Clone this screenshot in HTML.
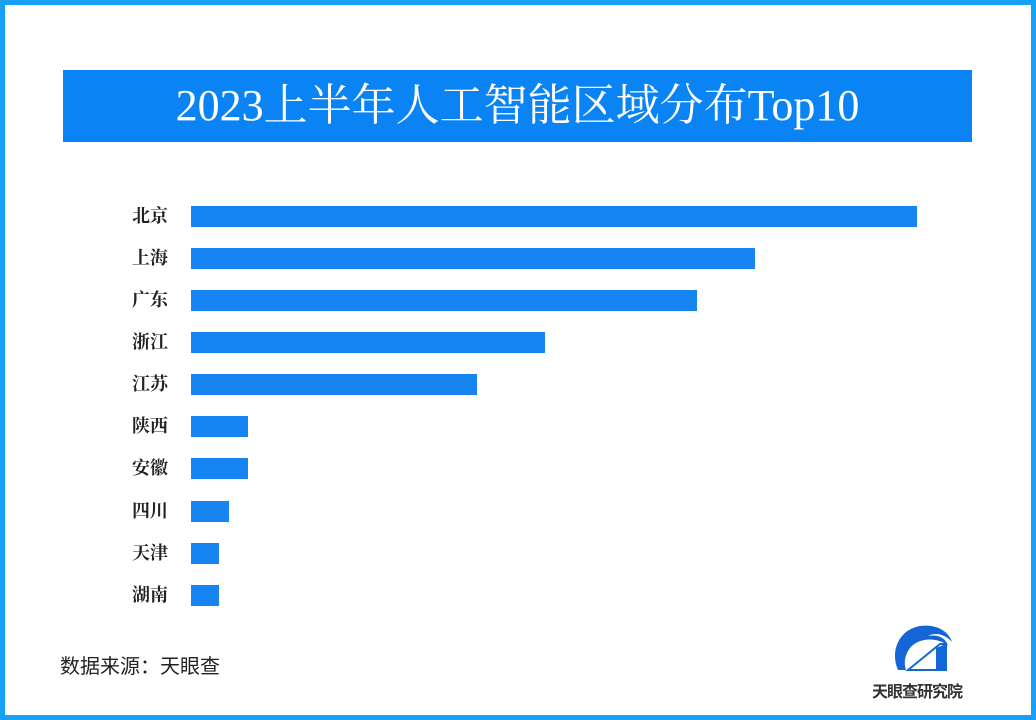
<!DOCTYPE html>
<html><head><meta charset="utf-8"><style>
body{margin:0;width:1036px;height:720px;overflow:hidden;background:#fff;}
.frame{position:absolute;left:0;top:0;width:1026px;height:710px;border:5px solid #18a0f8;background:#fff;}
.title{position:absolute;left:63px;top:70px;width:909px;height:72px;background:#0a84f5;color:#fff;font-family:"Liberation Serif","Noto Serif CJK SC",serif;font-size:44px;line-height:72px;text-align:center;}
.bar{position:absolute;left:191px;height:21px;background:#1685f2;}
.lab{position:absolute;left:100px;width:68px;text-align:right;font-family:"Liberation Serif","Noto Serif CJK SC",serif;font-size:18px;font-weight:bold;color:#222;line-height:22px;}
.src{position:absolute;left:60px;top:650px;font-family:"Liberation Sans","Noto Sans CJK SC",sans-serif;font-size:20px;color:#222;}
.logot{position:absolute;left:872px;top:678px;font-family:"Liberation Sans","Noto Sans CJK SC",sans-serif;font-size:16px;font-weight:bold;color:#333;letter-spacing:-1px;}
</style></head><body>
<div class="frame"></div>
<div class="title">2023上半年人工智能区域分布Top10</div>
<div class="lab" style="top:205px">北京</div><div class="bar" style="top:206px;width:726px"></div>
<div class="lab" style="top:247px">上海</div><div class="bar" style="top:248px;width:564px"></div>
<div class="lab" style="top:289px">广东</div><div class="bar" style="top:290px;width:506px"></div>
<div class="lab" style="top:331px">浙江</div><div class="bar" style="top:332px;width:354px"></div>
<div class="lab" style="top:373px">江苏</div><div class="bar" style="top:374px;width:286px"></div>
<div class="lab" style="top:415px">陕西</div><div class="bar" style="top:416px;width:57px"></div>
<div class="lab" style="top:457px">安徽</div><div class="bar" style="top:458px;width:57px"></div>
<div class="lab" style="top:500px">四川</div><div class="bar" style="top:501px;width:38px"></div>
<div class="lab" style="top:542px">天津</div><div class="bar" style="top:543px;width:28px"></div>
<div class="lab" style="top:584px">湖南</div><div class="bar" style="top:585px;width:28px"></div>
<div class="src">数据来源：天眼查</div>
<svg style="position:absolute;left:890px;top:622px" width="70" height="50" viewBox="0 0 70 50">
<path d="M8 48 C0 30 8 8 30 4 C45 2 58 8 62 20 C55 12 45 10 38 14 C48 12 56 16 58 24 C50 16 30 14 20 26 C14 34 14 42 16 48 Z" fill="#1466d6"/>
<path d="M18 48 L50 22 L56 22 L56 48 Z" fill="none" stroke="#1466d6" stroke-width="2"/>
<path d="M46 26 L56 22 L56 48 L46 48 Z" fill="#1466d6"/>
</svg>
<div class="logot">天眼查研究院</div>
</body></html>
